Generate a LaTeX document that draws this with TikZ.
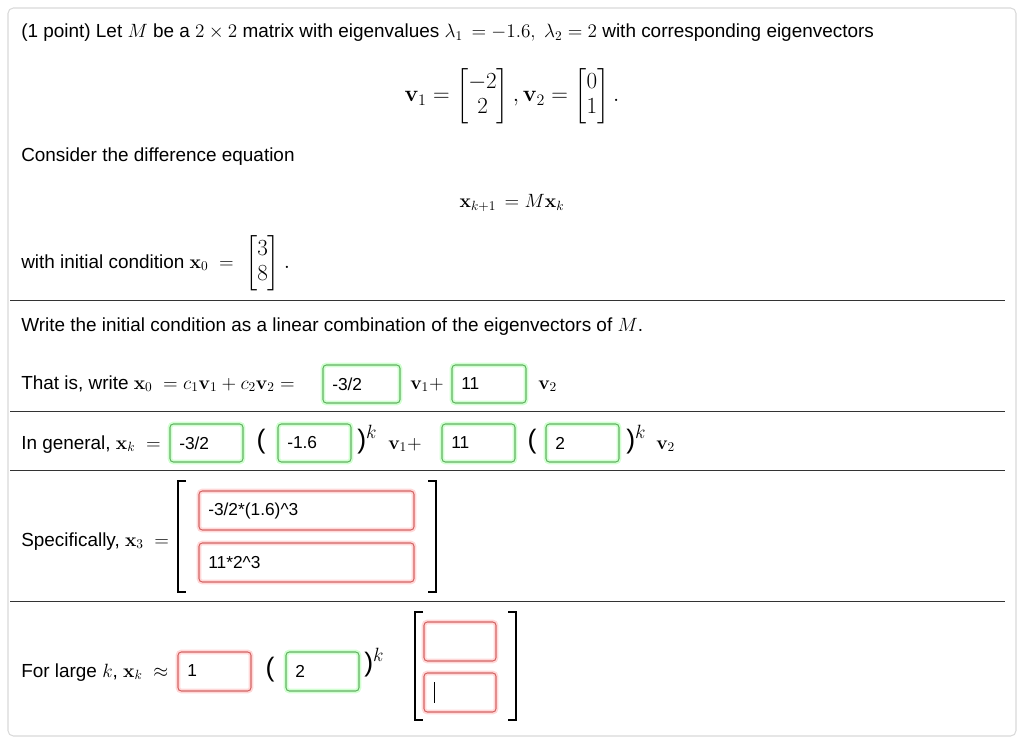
\documentclass[tikz,border=0pt]{standalone}
\usepackage{amsmath}
\usepackage[no-math]{fontspec}
\setmainfont{Liberation Sans}
\begin{document}
\begin{tikzpicture}[x=0.75pt,y=-0.75pt,
  txt/.style={anchor=base west,inner sep=0pt,font=\fontsize{14.2}{16}\selectfont},
  mth/.style={inner sep=0pt,font=\fontsize{14.2}{16}\selectfont},
  gbox/.style={draw=green!50!black!60,rounded corners=2.5pt,line width=0.8pt,
     preaction={draw=green!30,line width=3.5pt,rounded corners=2.5pt,opacity=0.6}},
  rbox/.style={draw=red!70!black!60,rounded corners=2.5pt,line width=0.8pt,
     preaction={draw=red!22,line width=3.5pt,rounded corners=2.5pt,opacity=0.7}},
  bt/.style={anchor=west,inner sep=0pt,font=\fontsize{13}{15}\selectfont},
  rule/.style={line width=0.6pt,black!80},
  brk/.style={line width=0.8pt}]
\useasboundingbox (0,0) rectangle (1024,742);
\draw[black!15,rounded corners=4pt,line width=0.8pt] (8,8) rectangle (1016,736);
% line 1
\node[txt] (l1) at (21,38) {(1 point) Let $M$ be a $2\times2$ matrix with eigenvalues $\lambda_1\,=-1.6,\ \lambda_2=2$ with corresponding eigenvectors};
\node[mth] (vv) at (512,96) {\fontsize{17}{19}\selectfont$\mathbf{v}_1=\left[\begin{matrix}-2\\2\end{matrix}\right],\mathbf{v}_2=\left[\begin{matrix}0\\1\end{matrix}\right].$};
\node[txt] (cons) at (21,161) {Consider the difference equation};
\node[mth] (de) at (512,203) {$\mathbf{x}_{k+1}\,=M\mathbf{x}_k$};
\node[txt] (ic) at (21,268) {with initial condition $\mathbf{x}_0\;=$};
\node[mth,anchor=west] (icm) at (245,263) {\fontsize{17}{19}\selectfont$\left[\begin{matrix}3\\8\end{matrix}\right].$};
\draw[rule] (10,300) -- (1005,300);
\node[txt] (wr) at (21,331) {Write the initial condition as a linear combination of the eigenvectors of $M$.};
% That is
\node[txt] (ti) at (21,389) {That is, write $\mathbf{x}_0\;=c_1\mathbf{v}_1+c_2\mathbf{v}_2=$};
\draw[gbox] (323,365) rectangle (400,403); \node[bt] (a1) at (332,384) {-3/2};
\node[txt] (tv1) at (410,389) {$\mathbf{v}_1+$};
\draw[gbox] (452,365) rectangle (526,403); \node[bt] (a2) at (461,384) {11};
\node[txt] (tv2) at (538,389) {$\mathbf{v}_2$};
\draw[rule] (10,411) -- (1005,411);
% In general
\node[txt] (ig) at (21,449) {In general, $\mathbf{x}_k\;=$};
\draw[gbox] (170,424) rectangle (243,462); \node[bt] (b1) at (179,443) {-3/2};
\node[mth] (p1) at (261,442) {\fontsize{20}{22}\selectfont(};
\draw[gbox] (278,424) rectangle (351,462); \node[bt] (b2) at (287,443) {-1.6};
\node[mth,anchor=west] (p2) at (357,440) {\fontsize{20}{22}\selectfont)$^{\fontsize{11}{12}\selectfont k}$};
\node[txt] (gv1) at (388,449) {$\mathbf{v}_1+$};
\draw[gbox] (442,424) rectangle (515,462); \node[bt] (b3) at (451,443) {11};
\node[mth] (p3) at (532,442) {\fontsize{20}{22}\selectfont(};
\draw[gbox] (546,424) rectangle (619,462); \node[bt] (b4) at (555,443) {2};
\node[mth,anchor=west] (p4) at (626,440) {\fontsize{20}{22}\selectfont)$^{\fontsize{11}{12}\selectfont k}$};
\node[txt] (gv2) at (656,449) {$\mathbf{v}_2$};
\draw[rule] (10,470) -- (1005,470);
% Specifically
\node[txt] (sp) at (21,546) {Specifically, $\mathbf{x}_3\;=$};
\draw[brk] (186,481) -- (178,481) -- (178,592) -- (186,592);
\draw[brk] (428,481) -- (436,481) -- (436,592) -- (428,592);
\draw[rbox] (199,491) rectangle (414,530); \node[bt] (c1) at (208,511) {-3/2*(1.6)\^{}3};
\draw[rbox] (199,543) rectangle (414,582); \node[bt] (c2) at (208,563) {11*2\^{}3};
\draw[rule] (10,601) -- (1005,601);
% For large k
\node[txt] (fl) at (21,677) {For large $k$, $\mathbf{x}_k\;\approx$};
\draw[rbox] (178,652) rectangle (251,691); \node[bt] (d1) at (187,671) {1};
\node[mth] (p5) at (270,670) {\fontsize{20}{22}\selectfont(};
\draw[gbox] (286,652) rectangle (359,691); \node[bt] (d2) at (295,671) {2};
\node[mth,anchor=west] (p6) at (364,663) {\fontsize{20}{22}\selectfont)$^{\fontsize{11}{12}\selectfont k}$};
\draw[brk] (423,612) -- (415,612) -- (415,720) -- (423,720);
\draw[brk] (508,612) -- (516,612) -- (516,720) -- (508,720);
\draw[rbox] (424,622) rectangle (496,661);
\draw[rbox] (424,673) rectangle (496,712);
\draw[line width=0.7pt] (434,682) -- (434,703);
\end{tikzpicture}
\end{document}
